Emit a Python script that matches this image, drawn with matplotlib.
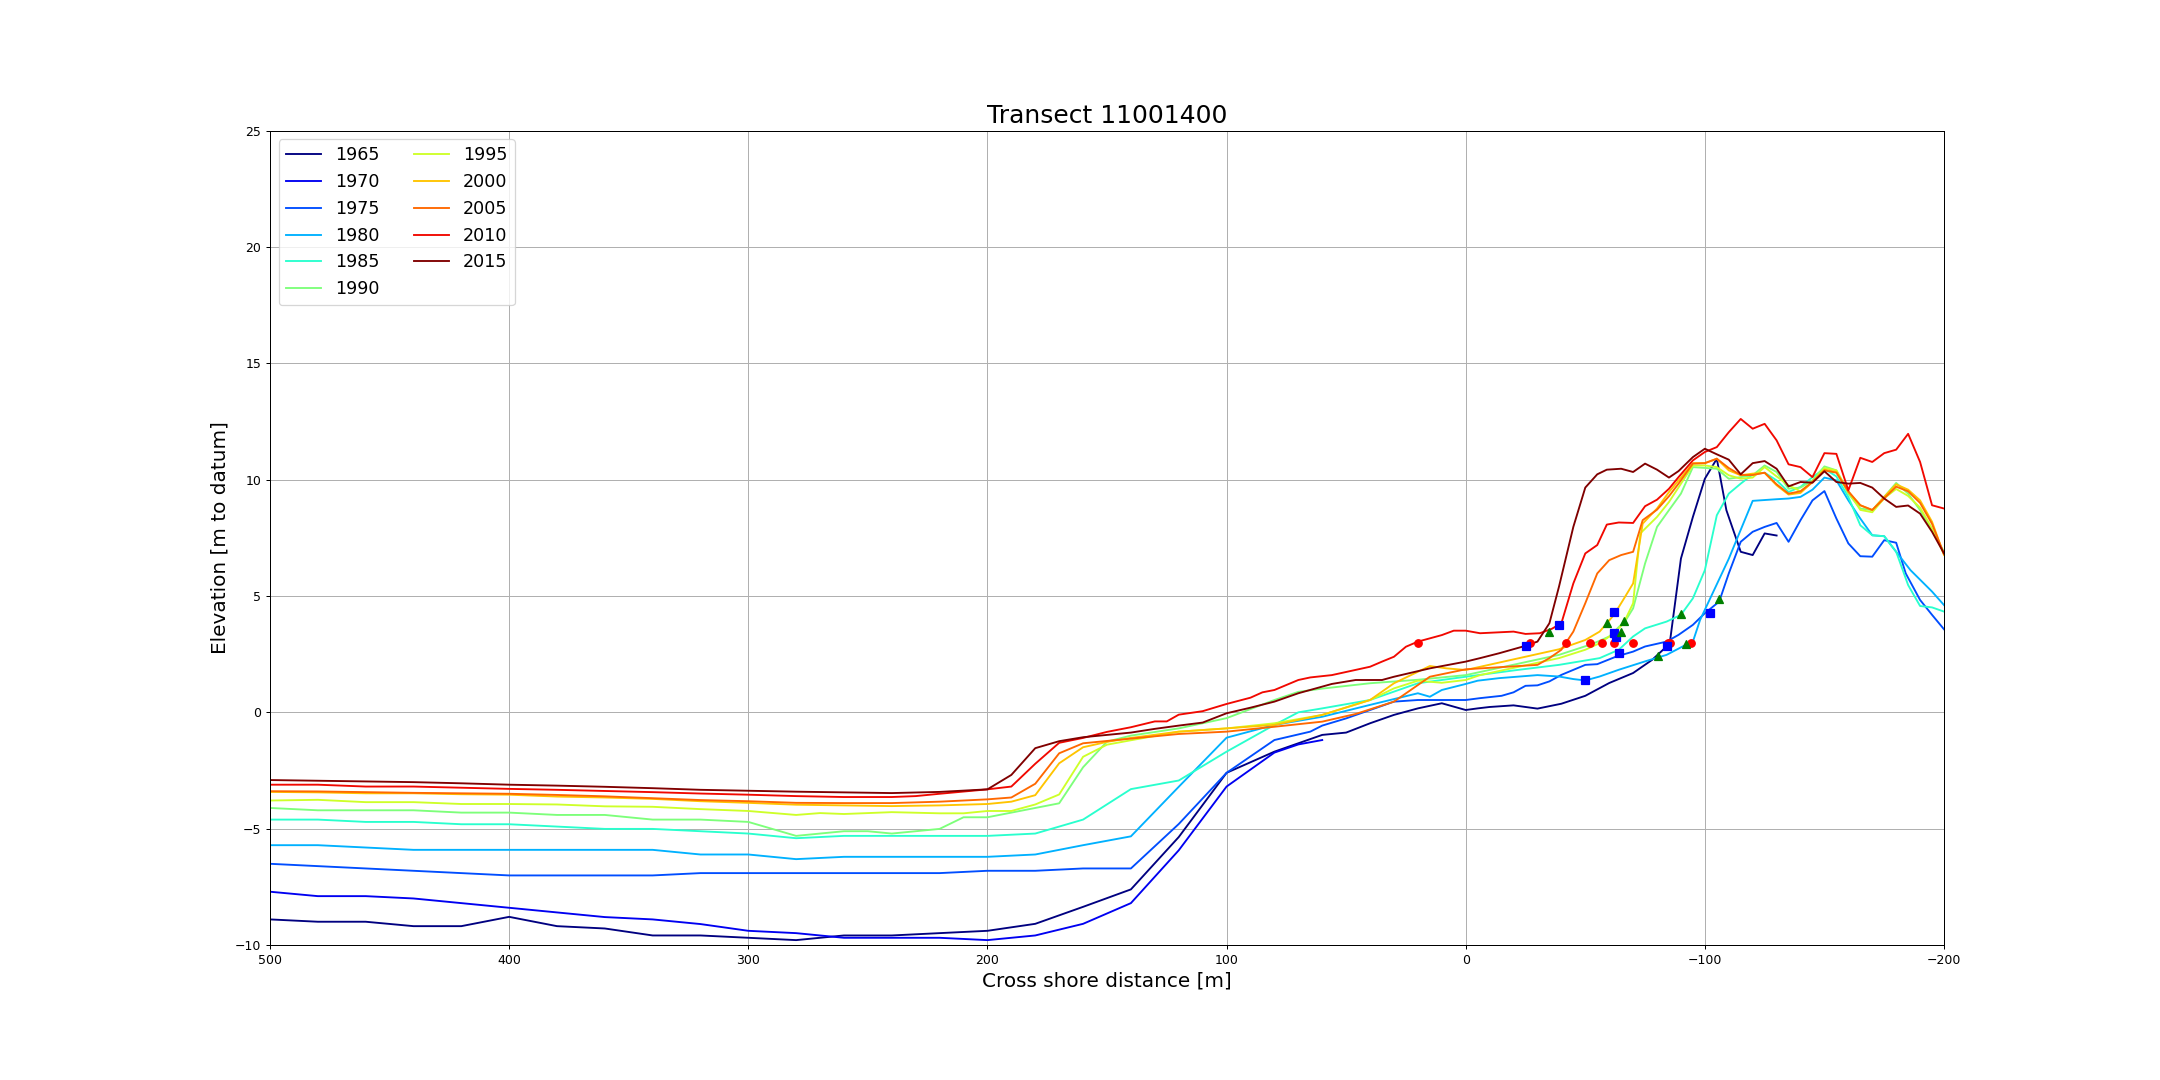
import numpy as np
import matplotlib.pyplot as plt

# Профили по годам: расстояние поперёк берега (м) и отметка (м)
years = [1965, 1970, 1975, 1980, 1985, 1990, 1995, 2000, 2005, 2010, 2015]

x_1965 = [500, 480, 460, 440, 420, 400, 380, 360, 340, 320, 300, 280, 260, 240, 220, 200, 180, 160, 140, 120, 100,
          80, 60, 50, 40, 30, 20, 10, 0, -5, -10, -20, -30, -40, -50, -60, -70, -78, -84, -85.5, -90, -95, -100,
          -105, -109, -115, -120, -125, -130]
y_1965 = [-8.9, -9.0, -9.0, -9.19, -9.19, -8.79, -9.19, -9.29, -9.59, -9.59, -9.69, -9.79, -9.59, -9.59, -9.49, -9.39,
          -9.09, -8.36, -7.61, -5.36, -2.6, -1.69, -0.97, -0.87, -0.47, -0.11, 0.17, 0.39, 0.1, 0.17, 0.23, 0.3, 0.16,
          0.37, 0.71, 1.26, 1.69, 2.26, 2.83, 3.11, 6.61, 8.4, 10.04, 10.9, 8.69, 6.9, 6.76, 7.69, 7.6]

x_1970 = [500, 480, 460, 440, 420, 400, 380, 360, 340, 320, 300, 280, 260, 240, 220, 200, 180, 160, 140, 120, 100,
          80, 70, 60]
y_1970 = [-7.71, -7.9, -7.9, -8.0, -8.2, -8.4, -8.6, -8.8, -8.9, -9.1, -9.39, -9.49, -9.69, -9.69, -9.69, -9.79,
          -9.59, -9.09, -8.2, -5.93, -3.19, -1.73, -1.38, -1.19]

x_1975 = [500, 480, 460, 440, 420, 400, 380, 360, 340, 320, 300, 280, 260, 240, 220, 200, 180, 160, 140, 120, 100,
          80, 65, 60, 50, 40, 30, 20, 10, 0, -6, -15, -20, -25, -30, -35, -40, -50, -55, -63, -70, -75, -84, -89,
          -95, -100, -106, -110, -115, -120, -125, -130, -135, -140, -145, -150, -155, -160, -165, -170, -175,
          -180, -184, -190, -195, -200]
y_1975 = [-6.51, -6.61, -6.71, -6.81, -6.91, -7.01, -7.01, -7.01, -7.01, -6.91, -6.91, -6.91, -6.91, -6.91, -6.91,
          -6.81, -6.81, -6.71, -6.71, -4.8, -2.6, -1.19, -0.83, -0.57, -0.26, 0.1, 0.46, 0.53, 0.53, 0.53, 0.61,
          0.71, 0.86, 1.14, 1.16, 1.33, 1.61, 2.04, 2.07, 2.4, 2.61, 2.83, 3.04, 3.33, 3.76, 4.26, 4.76, 5.97,
          7.33, 7.76, 7.97, 8.14, 7.33, 8.26, 9.11, 9.51, 8.33, 7.26, 6.71, 6.69, 7.4, 7.29, 5.97, 4.83, 4.19, 3.57]

x_1980 = [500, 480, 460, 440, 420, 400, 380, 360, 340, 320, 300, 280, 260, 240, 220, 200, 180, 160, 140, 120, 100,
          80, 60, 40, 20, 15, 10, 0, -5, -14, -30, -39, -45, -50, -56, -64, -75, -84, -92, -95, -98, -110, -120,
          -130, -135, -140, -145, -150, -155, -160, -165, -170, -175, -180, -186, -195, -200]
y_1980 = [-5.71, -5.71, -5.81, -5.91, -5.91, -5.91, -5.91, -5.91, -5.91, -6.11, -6.11, -6.31, -6.21, -6.21, -6.21,
          -6.21, -6.11, -5.71, -5.33, -3.2, -1.09, -0.54, -0.19, 0.32, 0.82, 0.67, 0.96, 1.22, 1.36, 1.47, 1.6,
          1.54, 1.43, 1.37, 1.54, 1.83, 2.19, 2.47, 2.9, 3.04, 3.97, 6.6, 9.09, 9.16, 9.19, 9.26, 9.57, 10.09,
          9.97, 9.11, 8.33, 7.61, 7.57, 6.9, 6.11, 5.19, 4.61]

x_1985 = [500, 480, 460, 440, 420, 400, 380, 360, 340, 320, 300, 280, 260, 240, 220, 200, 180, 160, 140, 120, 100,
          80, 70, 60, 40, 20, 0, -20, -39, -56, -64, -70, -75, -84, -90, -95, -100, -105, -110, -115, -120, -125,
          -130, -135, -140, -145, -150, -155, -160, -165, -170, -175, -180, -185, -190, -195, -200]
y_1985 = [-4.61, -4.61, -4.71, -4.71, -4.81, -4.81, -4.91, -5.01, -5.01, -5.11, -5.21, -5.41, -5.31, -5.31, -5.31,
          -5.31, -5.21, -4.61, -3.3, -2.93, -1.69, -0.54, 0.0, 0.17, 0.53, 1.25, 1.53, 1.8, 2.04, 2.33, 2.69, 3.26,
          3.61, 3.9, 4.19, 4.9, 6.11, 8.47, 9.4, 9.83, 10.23, 10.3, 9.97, 9.47, 9.69, 10.11, 10.47, 10.14, 9.26,
          8.04, 7.61, 7.57, 6.9, 5.47, 4.57, 4.51, 4.33]

x_1990 = [500, 480, 460, 440, 420, 400, 380, 360, 340, 320, 300, 280, 260, 250, 240, 220, 210, 200, 190, 180, 170,
          160, 150, 140, 120, 100, 80, 70, 60, 40, 20, 0, -39, -53, -60, -67, -70, -75, -80, -85, -90, -95, -105,
          -110, -115, -120, -125, -130, -135, -140, -145, -150, -155, -160, -165, -170, -175, -180, -185, -190,
          -195, -200]
y_1990 = [-4.11, -4.21, -4.21, -4.21, -4.31, -4.31, -4.41, -4.41, -4.61, -4.61, -4.71, -5.31, -5.11, -5.11, -5.21,
          -5.01, -4.51, -4.51, -4.31, -4.11, -3.91, -2.36, -1.26, -1.0, -0.69, -0.25, 0.53, 0.88, 1.02, 1.25, 1.4,
          1.6, 2.47, 2.94, 3.26, 3.97, 4.47, 6.4, 7.97, 8.69, 9.4, 10.54, 10.47, 10.04, 10.11, 10.19, 10.61, 10.33,
          9.61, 9.66, 9.97, 10.57, 10.4, 9.4, 8.76, 8.69, 9.26, 9.86, 9.4, 8.69, 7.83, 6.9]

x_1995 = [500, 480, 460, 440, 420, 400, 380, 360, 340, 320, 300, 280, 270, 260, 240, 220, 210, 200, 190, 180, 170,
          160, 150, 140, 120, 100, 80, 60, 40, 30, 20, 10, 0, -6, -39, -50, -56, -62, -66, -70, -73, -80, -85,
          -95, -100, -105, -110, -115, -120, -125, -130, -135, -140, -145, -150, -155, -160, -165, -170, -175,
          -180, -185, -190, -195, -200]
y_1995 = [-3.79, -3.76, -3.86, -3.86, -3.94, -3.94, -3.96, -4.04, -4.06, -4.16, -4.24, -4.41, -4.33, -4.37, -4.29,
          -4.34, -4.34, -4.24, -4.24, -3.96, -3.53, -1.91, -1.39, -1.2, -0.83, -0.69, -0.47, -0.11, 0.53, 1.03,
          1.36, 1.27, 1.39, 1.6, 2.33, 2.69, 2.97, 3.4, 3.83, 4.69, 7.69, 8.4, 9.04, 10.61, 10.61, 10.54, 10.19,
          10.04, 10.09, 10.54, 10.14, 9.76, 9.5, 9.9, 10.5, 10.4, 9.5, 8.7, 8.6, 9.2, 9.6, 9.3, 8.8, 7.9, 6.8]

x_2000 = [500, 480, 460, 440, 420, 400, 380, 360, 340, 320, 300, 280, 260, 240, 220, 200, 190, 180, 170, 160, 150,
          140, 120, 100, 80, 60, 40, 30, 15, 8, 0, -39, -50, -56, -62, -66, -70, -74, -80, -85, -95, -100, -105,
          -110, -115, -120, -125, -130, -135, -140, -145, -150, -155, -160, -165, -170, -175, -180, -185, -190,
          -195, -200]
y_2000 = [-3.42, -3.44, -3.48, -3.48, -3.52, -3.54, -3.62, -3.66, -3.72, -3.82, -3.89, -3.97, -4.0, -4.03, -4.0,
          -3.94, -3.84, -3.56, -2.19, -1.5, -1.27, -1.1, -0.83, -0.69, -0.54, -0.11, 0.53, 1.25, 1.99, 1.89, 1.82,
          2.71, 3.11, 3.47, 4.19, 4.86, 5.54, 8.11, 8.76, 9.47, 10.71, 10.71, 10.9, 10.4, 10.19, 10.26, 10.29,
          9.76, 9.36, 9.43, 9.9, 10.43, 10.33, 9.47, 8.9, 8.69, 9.26, 9.8, 9.57, 9.11, 8.19, 6.76]

x_2005 = [500, 480, 460, 440, 420, 400, 380, 360, 340, 320, 300, 280, 260, 240, 220, 200, 190, 180, 170, 160, 140,
          120, 100, 80, 60, 46, 30, 15, 0, -30, -35, -40, -45, -50, -55, -60, -65, -70, -74, -80, -85, -89, -95,
          -100, -105, -110, -115, -120, -125, -130, -135, -140, -145, -150, -155, -160, -165, -170, -175, -180,
          -185, -190, -195, -200]
y_2005 = [-3.39, -3.4, -3.43, -3.46, -3.48, -3.5, -3.55, -3.61, -3.69, -3.77, -3.82, -3.89, -3.9, -3.9, -3.84,
          -3.74, -3.66, -3.07, -1.76, -1.33, -1.13, -0.93, -0.83, -0.62, -0.4, -0.07, 0.46, 1.53, 1.85, 2.04, 2.33,
          2.69, 3.47, 4.69, 5.97, 6.54, 6.76, 6.9, 8.26, 8.71, 9.29, 9.83, 10.69, 10.71, 10.9, 10.5, 10.2, 10.2,
          10.3, 9.8, 9.4, 9.5, 9.9, 10.4, 10.3, 9.5, 8.9, 8.7, 9.2, 9.7, 9.5, 9.0, 8.1, 6.8]

x_2010 = [500, 480, 460, 440, 420, 400, 380, 360, 340, 320, 300, 280, 260, 240, 230, 220, 200, 190, 180, 170, 160,
          150, 140, 130, 125, 120, 110, 100, 90, 85, 80, 70, 65, 56, 40, 35, 30, 25, 20, 10, 5, 0, -6, -14, -20,
          -25, -31, -36, -40, -45, -50, -55, -59, -64, -70, -75, -80, -85, -89, -95, -100, -105, -110, -115, -120,
          -125, -130, -135, -140, -145, -150, -155, -160, -165, -170, -175, -180, -185, -190, -195, -200]
y_2010 = [-3.11, -3.11, -3.19, -3.19, -3.24, -3.29, -3.33, -3.38, -3.43, -3.49, -3.54, -3.6, -3.64, -3.64, -3.6,
          -3.5, -3.31, -3.19, -2.21, -1.31, -1.1, -0.84, -0.64, -0.39, -0.39, -0.1, 0.05, 0.36, 0.63, 0.86, 0.96,
          1.39, 1.5, 1.6, 1.96, 2.18, 2.39, 2.82, 3.04, 3.32, 3.51, 3.51, 3.4, 3.44, 3.47, 3.37, 3.4, 3.59, 3.83,
          5.54, 6.83, 7.19, 8.07, 8.16, 8.14, 8.86, 9.14, 9.61, 10.11, 10.83, 11.19, 11.4, 12.04, 12.61, 12.19,
          12.4, 11.69, 10.66, 10.54, 10.11, 11.14, 11.11, 9.54, 10.94, 10.76, 11.14, 11.29, 11.97, 10.76, 8.9, 8.76]

x_2015 = [500, 480, 460, 440, 420, 400, 380, 360, 340, 320, 300, 280, 260, 240, 220, 200, 190, 180, 170, 160, 140,
          130, 120, 110, 100, 90, 80, 70, 56, 46, 35, 30, 15, 0, -6, -14, -24, -30, -35, -39, -45, -50, -55, -59,
          -65, -70, -75, -80, -85, -89, -95, -100, -105, -110, -115, -120, -125, -130, -135, -140, -145, -150,
          -155, -160, -165, -170, -175, -180, -185, -190, -195, -200]
y_2015 = [-2.91, -2.94, -2.97, -3.0, -3.05, -3.11, -3.15, -3.2, -3.26, -3.33, -3.37, -3.41, -3.44, -3.47, -3.42,
          -3.31, -2.69, -1.54, -1.24, -1.07, -0.87, -0.71, -0.57, -0.44, -0.04, 0.2, 0.46, 0.82, 1.22, 1.39, 1.39,
          1.53, 1.89, 2.18, 2.33, 2.54, 2.83, 3.04, 3.83, 5.4, 7.97, 9.66, 10.23, 10.43, 10.47, 10.33, 10.69,
          10.43, 10.09, 10.37, 10.97, 11.33, 11.09, 10.86, 10.23, 10.71, 10.8, 10.47, 9.71, 9.9, 9.87, 10.36, 9.9,
          9.83, 9.86, 9.66, 9.19, 8.83, 8.89, 8.54, 7.76, 6.83]

profiles_x = [x_1965, x_1970, x_1975, x_1980, x_1985, x_1990, x_1995, x_2000, x_2005, x_2010, x_2015]
profiles_y = [y_1965, y_1970, y_1975, y_1980, y_1985, y_1990, y_1995, y_2000, y_2005, y_2010, y_2015]

# Характерные точки
red_x = [20, -27, -42, -52, -57, -62, -70, -84.5, -85.5, -94]
red_y = [3.0, 3.0, 3.0, 3.0, 3.0, 3.0, 3.0, 3.0, 3.0, 3.0]
blue_x = [-25, -39, -50, -62, -62, -63, -64, -84, -102]
blue_y = [2.87, 3.76, 1.39, 4.3, 3.4, 3.23, 2.54, 2.83, 4.26]
green_x = [-35, -59, -66, -65, -80.5, -90, -92, -106]
green_y = [3.47, 3.83, 3.91, 3.46, 2.44, 4.21, 2.93, 4.87]

colors = plt.cm.jet(np.linspace(0, 1, len(years)))

fig = plt.figure(figsize=(24, 12), dpi=90)
ax = fig.add_axes([0.125, 0.125, 0.775, 0.754])

for year, xs, ys, c in zip(years, profiles_x, profiles_y, colors):
    ax.plot(xs, ys, color=c, label=str(year))

ax.plot(red_x, red_y, 'ro', markersize=6)
ax.plot(blue_x, blue_y, 'bs', markersize=6)
ax.plot(green_x, green_y, 'g^', markersize=6)

ax.set_xlim(500, -200)
ax.set_ylim(-10, 25)
ax.set_title('Transect 11001400', fontsize=20)
ax.set_xlabel('Cross shore distance [m]', fontsize=16)
ax.set_ylabel('Elevation [m to datum]', fontsize=16)
ax.grid(True)
ax.legend(loc='upper left', ncol=2, fontsize=14)

fig.savefig('out.png', dpi=90)
